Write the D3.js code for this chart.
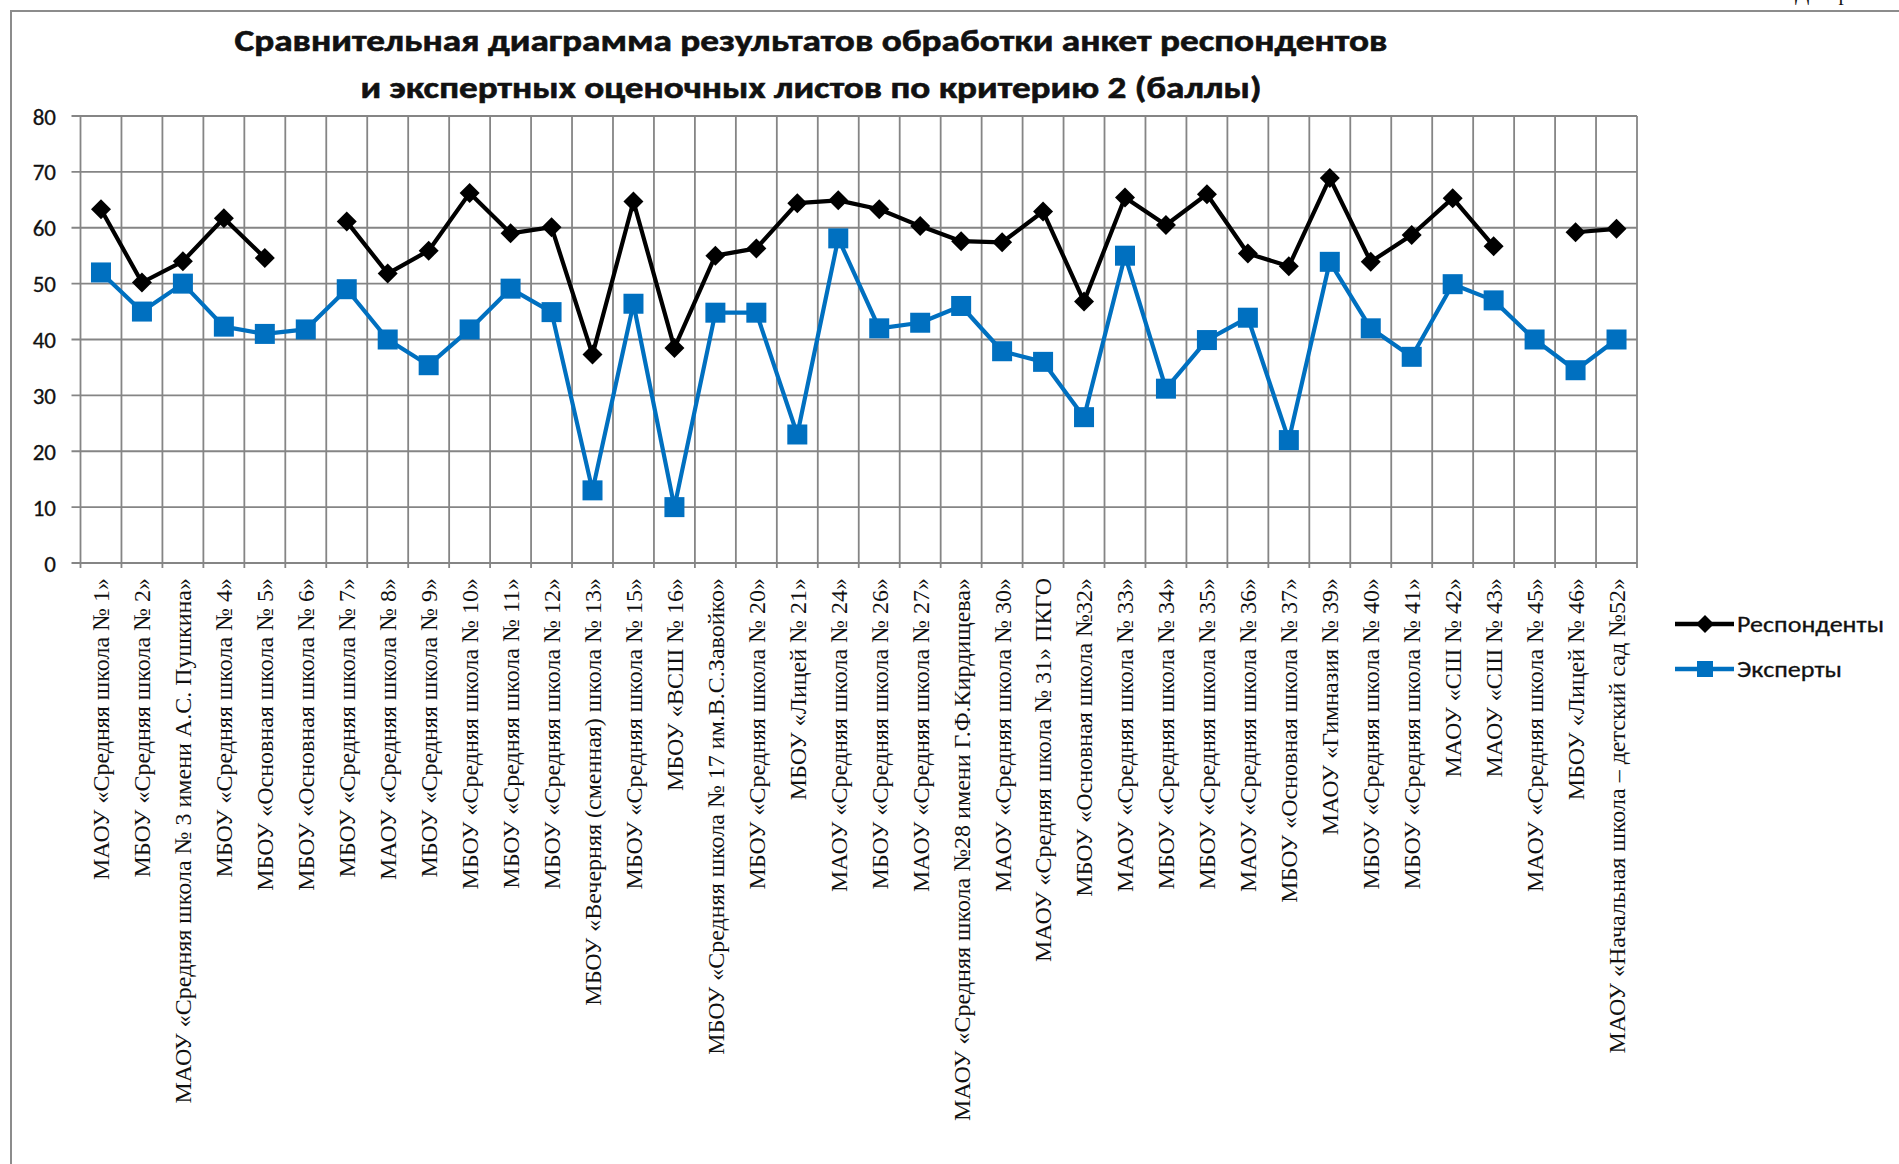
<!DOCTYPE html>
<html>
<head>
<meta charset="utf-8">
<script src="https://cdn.jsdelivr.net/npm/d3@7"></script>
<style>
  html, body { margin: 0; padding: 0; background: #fff; }
  svg { display: block; }
</style>
</head>
<body>
<svg id="chart" width="1899" height="1164"></svg>
<script>
const categories = [
  "МАОУ «Средняя школа № 1»",
  "МБОУ «Средняя школа № 2»",
  "МАОУ «Средняя школа № 3 имени А.С. Пушкина»",
  "МБОУ «Средняя школа № 4»",
  "МБОУ «Основная школа № 5»",
  "МБОУ «Основная школа № 6»",
  "МБОУ «Средняя школа № 7»",
  "МАОУ «Средняя школа № 8»",
  "МБОУ «Средняя школа № 9»",
  "МБОУ «Средняя школа № 10»",
  "МБОУ «Средняя школа № 11»",
  "МБОУ «Средняя школа № 12»",
  "МБОУ «Вечерняя (сменная) школа № 13»",
  "МБОУ «Средняя школа № 15»",
  "МБОУ «ВСШ № 16»",
  "МБОУ «Средняя школа № 17 им.В.С.Завойко»",
  "МБОУ «Средняя школа № 20»",
  "МБОУ «Лицей № 21»",
  "МАОУ «Средняя школа № 24»",
  "МБОУ «Средняя школа № 26»",
  "МАОУ «Средняя школа № 27»",
  "МАОУ «Средняя школа №28 имени Г.Ф.Кирдищева»",
  "МАОУ «Средняя школа № 30»",
  "МАОУ «Средняя школа № 31» ПКГО",
  "МБОУ «Основная школа №32»",
  "МАОУ «Средняя школа № 33»",
  "МБОУ «Средняя школа № 34»",
  "МБОУ «Средняя школа № 35»",
  "МАОУ «Средняя школа № 36»",
  "МБОУ «Основная школа № 37»",
  "МАОУ «Гимназия № 39»",
  "МБОУ «Средняя школа № 40»",
  "МБОУ «Средняя школа № 41»",
  "МАОУ «СШ № 42»",
  "МАОУ «СШ № 43»",
  "МАОУ «Средняя школа № 45»",
  "МБОУ «Лицей № 46»",
  "МАОУ «Начальная школа – детский сад №52»"
];

const respondents = [
  63.3, 50.2, 54.0, 61.7, 54.6, null, 61.1, 51.8, 55.9, 66.2,
  59.0, 60.1, 37.3, 64.7, 38.5, 55.0, 56.3, 64.4, 64.9, 63.3,
  60.3, 57.6, 57.4, 62.9, 46.8, 65.4, 60.5, 66.0, 55.4, 53.1,
  68.9, 53.9, 58.7, 65.3, 56.7, null, 59.2, 59.8
];

const experts = [
  52.0, 45.0, 50.0, 42.3, 41.0, 41.8, 49.0, 40.0, 35.4, 41.8,
  49.1, 44.9, 13.0, 46.4, 10.0, 44.8, 44.8, 23.0, 58.1, 42.0,
  43.0, 46.0, 37.9, 36.0, 26.1, 55.0, 31.2, 39.9, 43.9, 22.0,
  53.9, 42.0, 36.9, 49.9, 47.0, 40.0, 34.5, 40.0
];

const yTicks = [0, 10, 20, 30, 40, 50, 60, 70, 80];
const seriesNames = ["Респонденты", "Эксперты"];
const titleLines = [
  "Сравнительная диаграмма результатов обработки анкет респондентов",
  "и экспертных оценочных листов по критерию 2 (баллы)"
];
const cornerText = "Диаграмма 2";

// ---------- layout ----------
const svg = d3.select("#chart");
const W = 1899, H = 1164;
const plot = { left: 80.5, right: 1637, top: 116, bottom: 563 };
const gridColor = "#858585";
const sansFont = "Carlito, Calibri, Lato, 'Open Sans', sans-serif";
const serifFont = "'Liberation Serif', 'Times New Roman', serif";
const blue = "#0070C0";

// background + outer frame
svg.append("rect").attr("width", W).attr("height", H).attr("fill", "#fff");
svg.append("rect")
  .attr("x", 11).attr("y", 11).attr("width", W).attr("height", H)
  .attr("fill", "none").attr("stroke", "#8c8c8c").attr("stroke-width", 2);

// corner text, cut by the page top as in the source scan
svg.append("text")
  .attr("x", 1795).attr("y", 0)
  .attr("font-family", serifFont).attr("font-size", 21)
  .attr("fill", "#111")
  .text(cornerText);

// scales
const idx = categories.map((_, i) => i);
const x = d3.scaleBand().domain(idx).range([plot.left, plot.right]).padding(0);
const y = d3.scaleLinear().domain([0, 80]).range([plot.bottom, plot.top]);
const cx = i => x(i) + x.bandwidth() / 2;

// title
const title = svg.append("g").attr("font-family", sansFont).attr("font-weight", 700)
  .attr("fill", "#111").attr("stroke", "#111").attr("stroke-width", 0.6)
  .attr("text-anchor", "middle");
const titleTargets = [1153, 901];
const titleY = [51, 98];
titleLines.forEach((t, k) => {
  title.append("text")
    .attr("x", 811).attr("y", titleY[k])
    .attr("font-size", 31)
    .attr("textLength", titleTargets[k])
    .attr("lengthAdjust", "spacingAndGlyphs")
    .text(t);
});

// horizontal gridlines (with outside tick)
const gGrid = svg.append("g");
gGrid.selectAll("line.h").data(yTicks).join("line")
  .attr("class", "h")
  .attr("x1", plot.left - 9).attr("x2", plot.right)
  .attr("y1", d => y(d)).attr("y2", d => y(d))
  .attr("stroke", gridColor).attr("stroke-width", 1.8);

// vertical gridlines at category boundaries (with outside tick)
const bounds = idx.map(i => x(i)).concat([plot.right]);
gGrid.selectAll("line.v").data(bounds).join("line")
  .attr("class", "v")
  .attr("x1", d => d).attr("x2", d => d)
  .attr("y1", plot.top).attr("y2", plot.bottom + 5)
  .attr("stroke", gridColor).attr("stroke-width", 1.8);

// y axis labels via d3 axis
const yAxis = d3.axisLeft(y).tickValues(yTicks).tickSize(0).tickPadding(0);
const gy = svg.append("g").attr("transform", `translate(${56},0)`).call(yAxis);
gy.select(".domain").remove();
gy.selectAll("text")
  .attr("font-family", sansFont).attr("font-size", 23)
  .attr("fill", "#111").attr("stroke", "#111").attr("stroke-width", 0.3)
  .attr("dy", "0.35em");

// x axis labels via d3 axis
const xAxis = d3.axisBottom(x).tickSize(0).tickPadding(0).tickFormat(i => categories[i]);
const gx = svg.append("g").attr("transform", `translate(0,${plot.bottom})`).call(xAxis);
gx.select(".domain").remove();
gx.selectAll(".tick text")
  .attr("font-family", serifFont).attr("font-size", 24)
  .attr("fill", "#111")
  .attr("text-anchor", "end")
  .attr("transform", "translate(0,15) rotate(-90)")
  .attr("x", 0).attr("y", 0).attr("dy", "0.35em");

// lines
const line = d3.line()
  .defined(d => d.v != null)
  .x(d => cx(d.i)).y(d => y(d.v));

const respData = respondents.map((v, i) => ({ i, v }));
const expData = experts.map((v, i) => ({ i, v }));

svg.append("path").datum(expData)
  .attr("fill", "none").attr("stroke", blue).attr("stroke-width", 4.2)
  .attr("stroke-linejoin", "round").attr("d", line);

svg.append("g").selectAll("rect").data(expData.filter(d => d.v != null)).join("rect")
  .attr("x", d => cx(d.i) - 10).attr("y", d => y(d.v) - 10)
  .attr("width", 20).attr("height", 20).attr("fill", blue);

svg.append("path").datum(respData)
  .attr("fill", "none").attr("stroke", "#000").attr("stroke-width", 4.2)
  .attr("stroke-linejoin", "round").attr("d", line);

const diamond = r => `M0,${-r}L${r},0L0,${r}L${-r},0Z`;
svg.append("g").selectAll("path").data(respData.filter(d => d.v != null)).join("path")
  .attr("transform", d => `translate(${cx(d.i)},${y(d.v)})`)
  .attr("d", diamond(10)).attr("fill", "#000");

// legend
const legend = svg.append("g");
const legendRows = [
  { name: seriesNames[0], color: "#000", marker: "diamond", y: 624, w: 147 },
  { name: seriesNames[1], color: blue, marker: "square", y: 669, w: 105 }
];
legendRows.forEach(r => {
  legend.append("line")
    .attr("x1", 1675).attr("x2", 1734).attr("y1", r.y).attr("y2", r.y)
    .attr("stroke", r.color).attr("stroke-width", 4.5);
  if (r.marker === "diamond") {
    legend.append("path").attr("transform", `translate(1705,${r.y})`)
      .attr("d", diamond(9)).attr("fill", r.color);
  } else {
    legend.append("rect").attr("x", 1705 - 8).attr("y", r.y - 8)
      .attr("width", 16).attr("height", 16).attr("fill", r.color);
  }
  legend.append("text")
    .attr("x", 1737).attr("y", r.y).attr("dy", "0.35em")
    .attr("font-family", sansFont).attr("font-size", 23)
    .attr("fill", "#111").attr("stroke", "#111").attr("stroke-width", 0.3)
    .attr("textLength", r.w).attr("lengthAdjust", "spacingAndGlyphs")
    .text(r.name);
});
</script>
</body>
</html>
